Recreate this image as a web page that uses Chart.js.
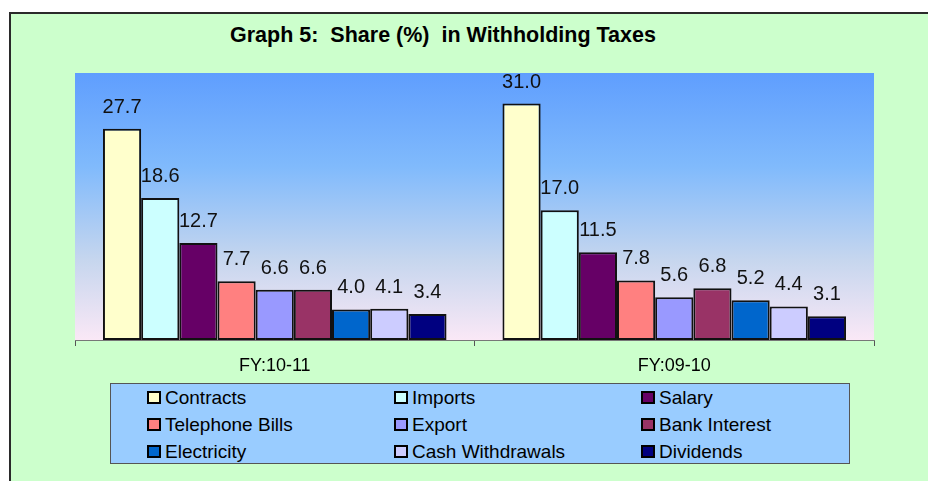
<!DOCTYPE html>
<html>
<head>
<meta charset="utf-8">
<script src="https://cdn.jsdelivr.net/npm/chart.js@4.4.0/dist/chart.umd.min.js"></script>
<style>
  html, body { margin: 0; overflow: hidden; background: #ffffff; font-family: "Liberation Sans", Arial, sans-serif; }
  #wrap { position: relative; width: 928px; height: 481px; overflow: hidden; }
  #frame { position: absolute; left: 9px; top: 12px; right: 0; bottom: 0;
           background: #CCFFCC; border-left: 2px solid #2a2a2a; border-top: 2px solid #2a2a2a; }
  #title { position: absolute; left: 230px; top: 23px; font-size: 21.5px; font-weight: bold;
           line-height: 24px; white-space: pre; color: #000; }
  canvas { position: absolute; left: 0; top: 0; }
  #legend { position: absolute; left: 110px; top: 383px; width: 740px; height: 81px;
            box-sizing: border-box; background: #99CCFF; border: 1px solid #555;
            display: grid; grid-template-columns: 247px 247px 246px; grid-auto-rows: 27px;
            padding-left: 36px; font-size: 19px; color: #000; }
  .item { display: flex; align-items: center; white-space: nowrap; }
  .box { flex: 0 0 14px; width: 14px; height: 13px; box-sizing: border-box; border: 2px solid #000; margin-right: 4px; }
</style>
</head>
<body>
<div id="wrap">
  <div id="frame"></div>
  <div id="title">Graph 5:  Share (%)  in Withholding Taxes</div>
  <canvas id="myChart" width="928" height="481"></canvas>
  <div id="legend"></div>
</div>
<script>
// categories (fiscal years) and series
const years = ['FY:10-11', 'FY:09-10'];
const taxHeads = ['Contracts', 'Imports', 'Salary', 'Telephone Bills', 'Export',
                  'Bank Interest', 'Electricity', 'Cash Withdrawals', 'Dividends'];
const contracts = [27.7, 31.0];
const imports = [18.6, 17.0];
const salary = [12.7, 11.5];
const telephoneBills = [7.7, 7.8];
const exportShare = [6.6, 5.6];
const bankInterest = [6.6, 6.8];
const electricity = [4.0, 5.2];
const cashWithdrawals = [4.1, 4.4];
const dividends = [3.4, 3.1];
const seriesValues = [contracts, imports, salary, telephoneBills, exportShare,
                      bankInterest, electricity, cashWithdrawals, dividends];
const barColors = ['#FFFFCC', '#CCFFFF', '#660066', '#FF8080', '#9999FF',
                   '#993366', '#0066CC', '#CCCCFF', '#000080'];

// plot area gradient background
const plotBackground = {
    id: 'plotBackground',
    beforeDraw(chart) {
        const { ctx, chartArea: a } = chart;
        const g = ctx.createLinearGradient(0, a.top, 0, a.bottom);
        g.addColorStop(0, '#5f9efe');
        g.addColorStop(0.35, '#80bafc');
        g.addColorStop(0.7, '#c6d6ee');
        g.addColorStop(1, '#fae8f6');
        ctx.save();
        ctx.fillStyle = g;
        ctx.fillRect(a.left, a.top, a.right - a.left, a.bottom - a.top);
        ctx.restore();
    }
};

// value labels above each bar
const valueLabels = {
    id: 'valueLabels',
    afterDatasetsDraw(chart) {
        const ctx = chart.ctx;
        ctx.save();
        ctx.font = '20px "Liberation Sans", Arial, sans-serif';
        ctx.fillStyle = '#111';
        ctx.textAlign = 'center';
        ctx.textBaseline = 'alphabetic';
        chart.data.datasets.forEach((ds, i) => {
            chart.getDatasetMeta(i).data.forEach((bar, j) => {
                ctx.fillText(ds.data[j].toFixed(1), bar.x, bar.y - 16);
            });
        });
        ctx.restore();
    }
};

const ctx = document.getElementById('myChart').getContext('2d');
const myChart = new Chart(ctx, {
    type: 'bar',
    data: {
        labels: years,
        datasets: taxHeads.map((name, i) => ({
            label: name,
            data: seriesValues[i],
            backgroundColor: barColors[i],
            borderColor: '#111',
            borderWidth: 2,
            borderSkipped: false,
            categoryPercentage: 0.86,
            barPercentage: 1.0
        }))
    },
    options: {
        responsive: false,
        animation: false,
        devicePixelRatio: 1,
        layout: { padding: { left: 75, right: 54, top: 73, bottom: 101 } },
        scales: {
            x: {
                afterFit(scale) { scale.height = 40; },
                grid: { display: true, drawOnChartArea: false, drawTicks: true, tickLength: 6, color: '#555' },
                border: { display: true, color: '#777', width: 1 },
                ticks: { color: '#000', padding: 9, font: { size: 18, family: '"Liberation Sans", Arial, sans-serif' } }
            },
            y: { display: false, min: 0, max: 35 }
        },
        plugins: {
            legend: { display: false },
            tooltip: { enabled: false }
        }
    },
    plugins: [plotBackground, valueLabels]
});

// legend, three columns in a box
const legendEl = document.getElementById('legend');
taxHeads.forEach((name, i) => {
    const item = document.createElement('div');
    item.className = 'item';
    const box = document.createElement('span');
    box.className = 'box';
    box.style.background = barColors[i];
    item.appendChild(box);
    item.appendChild(document.createTextNode(name));
    legendEl.appendChild(item);
});
</script>
</body>
</html>
